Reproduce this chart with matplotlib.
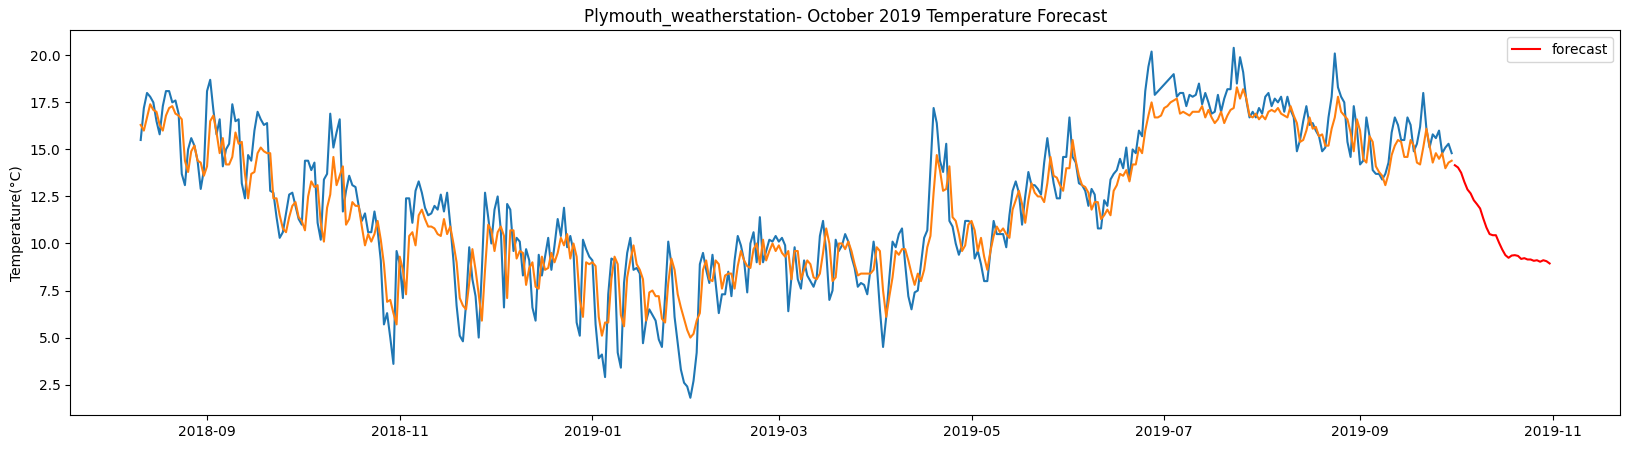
import numpy as np
import pandas as pd
import matplotlib
matplotlib.use("Agg")
import matplotlib.pyplot as plt
import matplotlib.dates as mdates

# daily observed temperature from 2018-08-11 (nan = missing day)
nan = np.nan
observed = [
    15.5, 17.2, 18.0, 17.8, 17.5, 16.5, 15.8, 17.3, 18.1, 18.1,
    17.5, 17.6, 16.9, 13.7, 13.1, 15.0, 15.6, 15.2, 14.4, 12.9,
    13.9, 18.1, 18.7, 17.1, 15.8, 16.6, 14.1, 15.0, 15.3, 17.4,
    16.5, 16.6, 13.2, 12.4, 14.7, 14.4, 16.0, 17.0, 16.6, 16.3,
    16.4, 12.8, 12.7, 11.4, 10.3, 10.6, 11.6, 12.6, 12.7, 12.0,
    11.3, 11.0, 14.4, 14.4, 13.9, 14.3, 11.1, 10.2, 13.4, 13.7,
    16.9, 15.1, 15.9, 16.6, 11.7, 12.8, 13.6, 13.1, 13.0, 12.0,
    11.2, 11.6, 10.6, 10.6, 11.7, 10.7, 9.1, 5.7, 6.3, 5.0,
    3.6, 9.6, 8.9, 7.1, 12.4, 12.4, 11.1, 12.8, 13.3, 12.7,
    11.9, 11.5, 11.6, 12.0, 11.8, 12.6, 11.7, 12.7, 11.0, 9.1,
    6.7, 5.1, 4.8, 6.8, 9.8, 8.1, 7.2, 5.0, 8.6, 12.7,
    11.4, 10.0, 11.8, 12.5, 10.7, 6.6, 12.1, 11.8, 9.6, 10.3,
    10.1, 8.3, 9.7, 9.1, 6.6, 5.9, 9.4, 8.3, 9.3, 10.3,
    8.6, 9.9, 11.3, 10.4, 11.9, 9.8, 10.4, 9.6, 5.8, 5.1,
    10.2, 9.7, 9.3, 9.1, 5.7, 3.9, 4.1, 2.9, 7.3, 9.2,
    9.1, 4.2, 3.4, 7.9, 9.5, 10.3, 8.6, 8.7, 8.4, 4.7,
    5.9, 6.5, 6.2, 5.9, 4.9, 4.5, 7.2, 10.1, 8.9, 6.1,
    4.7, 3.3, 2.6, 2.4, 1.8, 2.7, 4.2, 8.9, 9.5, 8.6,
    7.9, 9.4, 7.9, 6.3, 7.3, 7.3, 8.5, 7.2, 9.1, 10.4,
    9.9, 9.1, 7.4, 10.0, 10.6, 9.0, 11.4, 9.0, 9.6, 10.2,
    10.1, 10.4, 10.1, 10.3, 9.9, 6.4, 8.2, 9.8, 8.1, 7.6,
    9.1, 8.3, 8.0, 7.7, 8.2, 10.4, 11.2, 9.6, 7.0, 7.5,
    10.2, 9.6, 9.9, 10.5, 10.1, 9.3, 8.7, 7.7, 7.9, 7.8,
    7.3, 8.6, 10.1, 8.9, 6.5, 4.5, 6.1, 8.2, 10.1, 9.8,
    10.5, 10.8, 8.9, 7.2, 6.5, 7.4, 7.5, 8.9, 10.3, 10.7,
    13.9, 17.2, 16.4, 14.4, 13.8, 15.3, 11.2, 10.9, 10.0, 9.4,
    9.9, 11.2, 11.2, 11.1, 9.2, 9.6, 8.9, 8.0, 8.0, 9.6,
    11.2, 10.5, 10.5, 10.5, 9.8, 11.5, 12.8, 13.3, 12.7, 11.0,
    12.5, 13.8, 13.1, 13.1, 12.9, 12.6, 14.3, 15.6, 14.3, 13.2,
    12.4, 12.4, 14.6, 14.6, 16.7, 14.6, 14.3, 13.2, 13.1, 12.8,
    12.0, 12.9, 12.6, 10.8, 10.8, 12.3, 12.0, 13.4, 13.7, 13.9,
    14.5, 14.0, 15.1, 13.4, 15.0, 14.8, 16.0, 15.7, 18.1, 19.4,
    20.2, 17.9, nan, nan, nan, nan, nan, 19.0, 17.8, 18.0,
    18.0, 17.3, 17.9, 17.8, 17.9, 18.5, 17.4, 18.0, 17.5, 16.9,
    17.0, 17.9, 17.0, 17.7, 18.2, 18.2, 20.4, 18.5, 19.9, 19.1,
    17.6, 16.7, 17.0, 16.7, 17.2, 16.9, 17.8, 18.0, 17.3, 17.7,
    17.5, 17.8, 17.0, 17.8, 17.1, 16.7, 14.9, 15.5, 16.5, 17.3,
    16.3, 16.4, 16.0, 15.7, 14.9, 15.1, 16.7, 17.8, 20.1, 18.3,
    17.8, 17.5, 15.4, 14.6, 17.3, 16.1, 14.2, 14.4, 16.7, 15.7,
    13.9, 13.7, 13.7, 13.4, 13.7, 14.3, 15.9, 16.7, 16.3, 15.5,
    15.5, 16.7, 16.3, 14.9, 15.3, 16.2, 18.0, 16.1, 15.1, 15.8,
    15.6, 16.0, 14.8, 15.1, 15.3, 14.8,
]

# fitted values, same days
fitted = [
    16.3, 16.0, 16.7, 17.4, 17.1, 17.0, 16.3, 16.0, 16.8, 17.2,
    17.3, 16.9, 16.8, 16.6, 14.4, 13.8, 14.9, 15.2, 14.4, 14.3,
    13.6, 14.1, 16.5, 16.8, 15.9, 14.8, 15.6, 14.2, 14.2, 14.6,
    15.9, 15.3, 15.4, 13.7, 12.4, 13.7, 13.8, 14.8, 15.1, 14.9,
    14.8, 14.8, 12.4, 12.4, 11.5, 10.8, 10.6, 11.4, 12.0, 12.2,
    11.4, 11.2, 10.7, 12.5, 13.3, 13.0, 13.1, 11.1, 10.1, 11.9,
    12.6, 14.6, 13.1, 13.6, 14.1, 11.0, 11.3, 12.2, 12.0, 12.0,
    10.9, 9.9, 10.5, 10.1, 10.5, 11.2, 10.2, 8.9, 6.9, 7.0,
    6.3, 5.7, 9.3, 8.6, 7.3, 10.4, 10.6, 9.9, 11.5, 11.8,
    11.3, 10.9, 10.9, 10.8, 10.5, 10.4, 11.3, 10.5, 10.9, 10.0,
    9.0, 7.1, 6.7, 6.5, 7.9, 9.7, 8.6, 7.3, 5.9, 8.6,
    11.0, 10.7, 9.6, 10.6, 10.9, 10.4, 7.1, 10.7, 10.7, 9.2,
    9.6, 9.5, 7.8, 8.7, 9.0, 7.7, 7.6, 9.3, 8.6, 8.7,
    9.5, 9.0, 9.5, 10.3, 9.9, 10.5, 9.2, 10.0, 9.3, 7.0,
    6.1, 9.0, 8.9, 9.0, 8.8, 6.1, 5.1, 5.8, 5.8, 8.1,
    9.3, 8.9, 6.2, 5.6, 8.2, 9.1, 9.9, 8.9, 8.6, 8.1,
    5.9, 7.4, 7.5, 7.2, 7.2, 6.0, 5.8, 7.9, 9.2, 8.6,
    7.3, 6.6, 6.0, 5.4, 5.0, 5.2, 5.9, 6.3, 8.6, 9.1,
    8.1, 8.0, 9.1, 8.9, 7.6, 8.3, 8.4, 8.4, 7.6, 8.8,
    9.6, 9.1, 8.8, 8.7, 9.7, 10.0, 8.9, 10.2, 9.1, 9.6,
    10.0, 9.6, 9.9, 9.5, 9.3, 9.6, 8.1, 9.6, 9.6, 8.1,
    8.6, 9.1, 8.9, 8.2, 8.1, 8.4, 9.5, 10.8, 10.0, 8.0,
    8.2, 10.0, 10.0, 9.7, 10.1, 9.6, 8.9, 8.3, 8.4, 8.4,
    8.4, 8.4, 8.6, 9.8, 9.6, 7.5, 6.1, 7.2, 8.2, 9.6,
    9.4, 9.7, 9.7, 9.1, 8.4, 7.8, 8.4, 8.0, 8.6, 9.8,
    10.4, 12.7, 14.7, 13.9, 12.8, 12.9, 14.1, 11.4, 11.2, 10.5,
    9.6, 9.9, 11.0, 11.2, 10.7, 9.6, 10.3, 9.3, 8.6, 9.6,
    10.4, 10.9, 10.6, 10.8, 10.5, 10.3, 11.8, 12.3, 12.8, 12.1,
    11.1, 12.3, 13.2, 12.7, 12.5, 12.5, 12.2, 13.2, 14.6, 13.6,
    13.5, 13.1, 12.8, 14.0, 14.0, 15.5, 14.4, 13.6, 13.1, 13.0,
    12.7, 11.8, 12.2, 12.2, 11.3, 11.5, 11.8, 11.5, 12.8, 13.1,
    13.7, 13.6, 13.9, 13.3, 14.2, 14.2, 15.1, 14.8, 16.0, 16.8,
    17.5, 16.7, 16.7, 16.8, 17.2, 17.3, 17.5, 17.6, 17.7, 16.9,
    17.0, 16.9, 16.8, 17.0, 17.0, 17.0, 17.3, 16.7, 17.1, 16.7,
    16.4, 16.6, 17.0, 16.4, 16.8, 17.1, 17.2, 18.3, 17.7, 18.2,
    17.7, 16.8, 16.7, 16.9, 16.6, 16.8, 16.6, 17.0, 17.1, 17.0,
    17.2, 16.9, 16.8, 16.7, 17.3, 16.8, 16.4, 15.4, 15.5, 16.0,
    16.7, 16.1, 16.2, 15.7, 15.8, 15.2, 15.2, 16.1, 16.7, 17.8,
    17.0, 16.8, 16.6, 15.9, 14.9, 16.6, 16.0, 14.5, 14.3, 15.7,
    15.4, 14.1, 13.8, 13.6, 13.1, 13.7, 14.7, 15.2, 15.5, 15.4,
    14.6, 14.6, 15.5, 15.2, 14.3, 14.2, 15.1, 16.1, 15.2, 14.3,
    14.8, 14.5, 14.8, 14.0, 14.3, 14.4,
]

# forecast for October 2019
forecast = [
    14.16, 14.04, 13.76, 13.28, 12.87, 12.66, 12.30, 12.09, 11.86, 11.33,
    10.85, 10.50, 10.44, 10.44, 10.04, 9.68, 9.38, 9.24, 9.36, 9.38,
    9.34, 9.18, 9.22, 9.15, 9.15, 9.08, 9.11, 9.03, 9.11, 9.06, 8.94,
]

days = pd.date_range("2018-08-11", periods=len(observed), freq="D")
fc_days = pd.date_range("2019-10-01", periods=len(forecast), freq="D")

obs = pd.Series(observed, index=days).dropna()
fit = pd.Series(fitted, index=days)

fig, ax = plt.subplots(figsize=(16.3, 4.49), dpi=100)
fig.subplots_adjust(left=0.0431, right=0.9939, top=0.9325, bottom=0.0751)

ax.plot(obs.index, obs.values)
ax.plot(fit.index, fit.values)
ax.plot(fc_days, forecast, color="red", label="forecast")

ax.xaxis.set_major_locator(mdates.MonthLocator(bymonth=[1, 3, 5, 7, 9, 11]))
ax.xaxis.set_major_formatter(mdates.DateFormatter("%Y-%m"))

ax.set_title("Plymouth_weatherstation- October 2019 Temperature Forecast")
ax.set_ylabel("Temperature(°C)")
ax.legend(loc="upper right")

plt.savefig("out.png")
